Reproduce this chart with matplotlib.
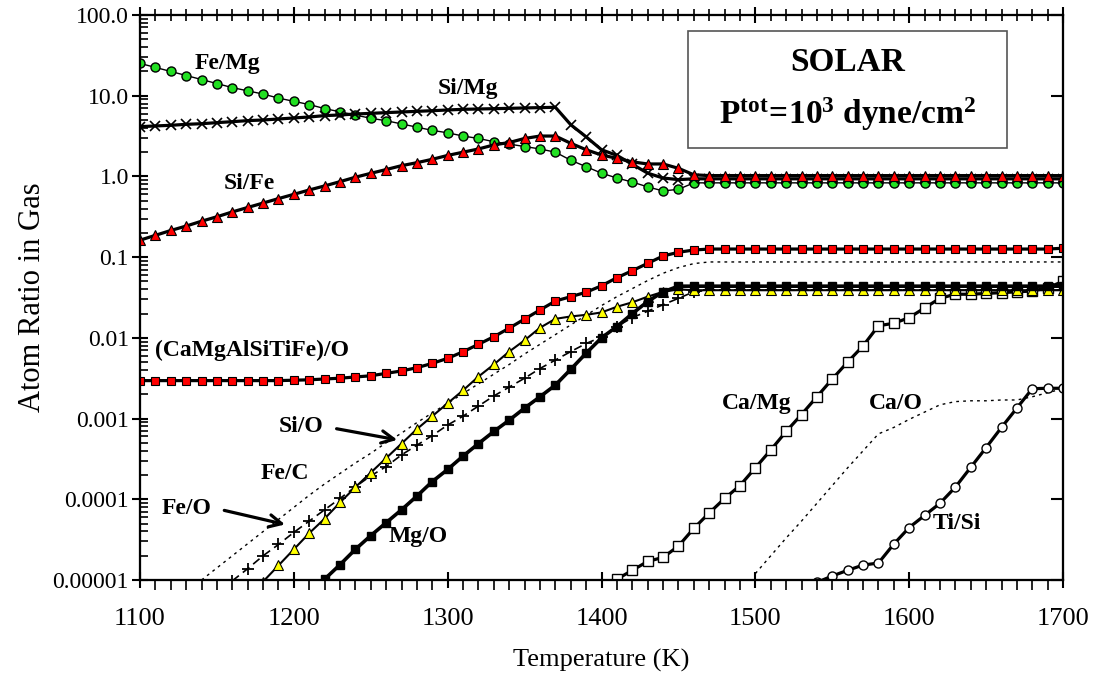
import matplotlib
matplotlib.use("Agg")
import matplotlib.pyplot as plt
from matplotlib.patches import Rectangle
from matplotlib.ticker import FixedLocator, FixedFormatter, LogLocator, NullFormatter, MultipleLocator
import numpy as np

plt.rcParams['font.family'] = ['Liberation Serif', 'DejaVu Serif']
plt.rcParams['mathtext.fontset'] = 'custom'
plt.rcParams['mathtext.rm'] = 'Liberation Serif'
plt.rcParams['mathtext.bf'] = 'Liberation Serif:bold'
plt.rcParams['mathtext.it'] = 'Liberation Serif:italic'

# temperature grid (K), one point every 10 K
temps = np.arange(1100, 1710, 10)

# log10 of the atom ratios
fe_mg = [1.40, 1.35, 1.30, 1.25, 1.20, 1.15, 1.10, 1.06, 1.02, 0.97,
         0.93, 0.89, 0.84, 0.80, 0.76, 0.72, 0.69, 0.65, 0.61, 0.57,
         0.54, 0.50, 0.47, 0.43, 0.40, 0.37, 0.34, 0.30, 0.20, 0.12,
         0.04, -0.02, -0.07, -0.13, -0.18, -0.16, -0.08, -0.08, -0.08, -0.08,
         -0.08, -0.08, -0.08, -0.08, -0.08, -0.08, -0.08, -0.08, -0.08, -0.08,
         -0.08, -0.08, -0.08, -0.08, -0.08, -0.08, -0.08, -0.08, -0.08, -0.08,
         -0.08]
si_mg = [0.616, 0.625, 0.633, 0.645, 0.653, 0.666, 0.678, 0.691, 0.699, 0.711,
         0.724, 0.736, 0.753, 0.761, 0.773, 0.781, 0.790, 0.798, 0.806, 0.814,
         0.823, 0.831, 0.835, 0.839, 0.843, 0.848, 0.852, 0.856, 0.64, 0.49,
         0.33, 0.26, 0.15, 0.04, -0.02, -0.04, -0.03, -0.03, -0.03, -0.03,
         -0.03, -0.03, -0.03, -0.03, -0.03, -0.03, -0.03, -0.03, -0.03, -0.03,
         -0.03, -0.03, -0.03, -0.03, -0.03, -0.03, -0.03, -0.03, -0.03, -0.03,
         -0.03]
si_fe = [-0.79, -0.73, -0.67, -0.615, -0.555, -0.50, -0.44, -0.385, -0.33, -0.275,
         -0.222, -0.168, -0.118, -0.065, -0.01, 0.038, 0.085, 0.133, 0.17, 0.212,
         0.26, 0.30, 0.34, 0.39, 0.42, 0.47, 0.50, 0.50, 0.41, 0.33,
         0.265, 0.224, 0.18, 0.154, 0.154, 0.10, 0.02, 0.01, 0.01, 0.01,
         0.01, 0.01, 0.01, 0.01, 0.01, 0.01, 0.01, 0.01, 0.01, 0.01,
         0.01, 0.01, 0.01, 0.01, 0.01, 0.01, 0.01, 0.01, 0.01, 0.01,
         0.01]
camg_o = [-2.53, -2.53, -2.53, -2.53, -2.53, -2.53, -2.53, -2.53, -2.53, -2.53,
          -2.525, -2.52, -2.51, -2.50, -2.485, -2.47, -2.44, -2.41, -2.37, -2.316,
          -2.254, -2.172, -2.08, -1.986, -1.88, -1.767, -1.655, -1.544, -1.49, -1.435,
          -1.355, -1.255, -1.168, -1.077, -0.986, -0.94, -0.912, -0.90, -0.90, -0.90,
          -0.90, -0.90, -0.90, -0.90, -0.90, -0.90, -0.90, -0.90, -0.90, -0.90,
          -0.90, -0.90, -0.90, -0.90, -0.90, -0.90, -0.90, -0.90, -0.90, -0.90,
          -0.89]

# series that start later: (first temperature, log10 values)
fe_c_start = 1140
fe_c = [-5.00, -4.85, -4.70, -4.55, -4.40, -4.25, -4.10, -3.95, -3.81, -3.68,
        -3.55, -3.43, -3.30, -3.18, -3.05, -2.93, -2.81, -2.69, -2.57, -2.45,
        -2.33, -2.20, -2.08, -1.96, -1.84, -1.72, -1.60, -1.49, -1.39, -1.29,
        -1.20, -1.13, -1.08, -1.06, -1.06, -1.06, -1.06, -1.06, -1.06, -1.06,
        -1.06, -1.06, -1.06, -1.06, -1.06, -1.06, -1.06, -1.06, -1.06, -1.06,
        -1.06, -1.06, -1.06, -1.06, -1.06, -1.06, -1.06]
fe_o_start = 1160
fe_o = [-5.01, -4.86, -4.70, -4.56, -4.41, -4.27, -4.13, -3.99, -3.845, -3.71,
        -3.595, -3.45, -3.33, -3.21, -3.08, -2.97, -2.845, -2.72, -2.61, -2.50,
        -2.38, -2.275, -2.17, -2.07, -1.99, -1.86, -1.75, -1.67, -1.59, -1.51,
        -1.43, -1.41, -1.41, -1.41, -1.41, -1.41, -1.41, -1.41, -1.41, -1.41,
        -1.41, -1.41, -1.41, -1.41, -1.41, -1.41, -1.41, -1.41, -1.41, -1.41,
        -1.41, -1.41, -1.41, -1.41, -1.41]
si_o_start = 1180
si_o = [-5.02, -4.82, -4.62, -4.42, -4.24, -4.04, -3.85, -3.67, -3.49, -3.31,
        -3.13, -2.97, -2.81, -2.65, -2.48, -2.33, -2.17, -2.03, -1.875, -1.765,
        -1.735, -1.715, -1.685, -1.615, -1.56, -1.49, -1.43, -1.40, -1.41, -1.41,
        -1.41, -1.41, -1.41, -1.41, -1.41, -1.41, -1.41, -1.41, -1.41, -1.41,
        -1.41, -1.41, -1.41, -1.41, -1.41, -1.41, -1.41, -1.41, -1.41, -1.41,
        -1.41, -1.41, -1.41]
mg_o_start = 1210
mg_o = [-5.15, -4.99, -4.81, -4.62, -4.45, -4.29, -4.13, -3.96, -3.78, -3.63,
        -3.465, -3.31, -3.16, -3.02, -2.87, -2.73, -2.585, -2.39, -2.19, -2.00,
        -1.86, -1.70, -1.55, -1.43, -1.36, -1.36, -1.36, -1.36, -1.36, -1.36,
        -1.36, -1.36, -1.36, -1.36, -1.36, -1.36, -1.36, -1.36, -1.36, -1.36,
        -1.36, -1.36, -1.36, -1.36, -1.36, -1.36, -1.36, -1.36, -1.36, -1.36]
ca_mg_start = 1400
ca_mg = [-5.12, -4.99, -4.88, -4.77, -4.72, -4.58, -4.36, -4.17, -3.99, -3.83,
         -3.61, -3.39, -3.16, -2.95, -2.73, -2.51, -2.30, -2.10, -1.85, -1.82,
         -1.75, -1.63, -1.51, -1.46, -1.46, -1.45, -1.44, -1.43, -1.42, -1.38,
         -1.30]
ca_o_start = 1500
ca_o = [-4.92, -4.70, -4.48, -4.27, -4.05, -3.83, -3.61, -3.40, -3.19, -3.11,
        -3.01, -2.92, -2.83, -2.79, -2.78, -2.78, -2.77, -2.77, -2.73, -2.68,
        -2.63]
ti_si_start = 1530
ti_si = [-5.10, -5.03, -4.95, -4.88, -4.815, -4.79, -4.555, -4.35, -4.20, -4.05,
         -3.85, -3.605, -3.36, -3.11, -2.87, -2.63, -2.625, -2.625]

ytick_vals = [1e-5, 1e-4, 1e-3, 1e-2, 1e-1, 1, 10, 100]
ytick_labels = ['0.00001', '0.0001', '0.001', '0.01', '0.1', '1.0', '10.0', '100.0']


def series(start, logs):
    t = start + 10 * np.arange(len(logs))
    return t, 10.0 ** np.array(logs)


fig = plt.figure(figsize=(10.94, 6.77), dpi=100)
ax = fig.add_axes([0.128, 0.1433, 0.8437, 0.8346])

red = '#ff0000'
green = '#22e022'
yellow = '#ffff00'

# upper group
ax.plot(*series(1100, fe_mg), color='k', lw=1.0, marker='o', ms=6.5,
        mfc=green, mec='k', mew=1.0, zorder=3)
ax.plot(*series(1100, si_mg), color='k', lw=2.3, marker='x', ms=7,
        mew=1.2, zorder=4)
ax.plot(*series(1100, si_fe), color='k', lw=2.3, marker='^', ms=7,
        mfc=red, mec='k', mew=0.8, zorder=5)

# lower group
ax.plot(*series(1100, camg_o), color='k', lw=2.3, marker='s', ms=6,
        mfc=red, mec='k', mew=0.8, zorder=5)
ax.plot(*series(fe_c_start, fe_c), color='k', lw=1.0, ls=(0, (2, 3)), zorder=2)
ax.plot(*series(fe_o_start, fe_o), color='k', lw=1.2, ls=(0, (5, 3)),
        marker='+', ms=9, mew=1.3, zorder=3)
ax.plot(*series(si_o_start, si_o), color='k', lw=1.5, marker='^', ms=6.5,
        mfc=yellow, mec='k', mew=0.8, zorder=4)
ax.plot(*series(mg_o_start, mg_o), color='k', lw=2.6, marker='s', ms=6,
        mfc='k', mec='k', zorder=4)
ax.plot(*series(ca_mg_start, ca_mg), color='k', lw=2.3, marker='s', ms=6.5,
        mfc='white', mec='k', mew=1.0, zorder=3)
ax.plot(*series(ca_o_start, ca_o), color='k', lw=1.0, ls=(0, (2, 3)), zorder=2)
ax.plot(*series(ti_si_start, ti_si), color='k', lw=2.3, marker='o', ms=6.5,
        mfc='white', mec='k', mew=1.0, zorder=3)

ax.set_yscale('log')
ax.set_xlim(1100, 1700)
ax.set_ylim(1e-5, 100)

# series labels
lab = dict(fontsize=17, fontweight='bold', ha='center', va='center')
ax.text(1157, 10 ** 1.40, 'Fe/Mg', **lab)
ax.text(1313, 10 ** 1.095, 'Si/Mg', **lab)
ax.text(1171, 10 ** -0.086, 'Si/Fe', **lab)
ax.text(1173, 10 ** -2.15, '(CaMgAlSiTiFe)/O', **lab)
ax.text(1205, 10 ** -3.10, 'Si/O', **lab)
ax.text(1194, 10 ** -3.68, 'Fe/C', **lab)
ax.text(1130, 10 ** -4.11, 'Fe/O', **lab)
ax.text(1281, 10 ** -4.46, 'Mg/O', **lab)
ax.text(1501, 10 ** -2.81, 'Ca/Mg', **lab)
ax.text(1591, 10 ** -2.81, 'Ca/O', **lab)
ax.text(1631, 10 ** -4.30, 'Ti/Si', **lab)

arrow = dict(arrowstyle='->', lw=2.3, color='k', mutation_scale=22)
ax.annotate('', xy=(1269, 10 ** -3.27), xytext=(1226, 10 ** -3.12), arrowprops=arrow)
ax.annotate('', xy=(1196, 10 ** -4.32), xytext=(1153, 10 ** -4.13), arrowprops=arrow)

# info box
ax.add_patch(Rectangle((0.594, 0.765), 0.345, 0.207, transform=ax.transAxes,
                       fill=True, facecolor='white', edgecolor='#555555',
                       lw=1.2, zorder=6))
ax.text(0.7665, 0.915, 'SOLAR', transform=ax.transAxes, fontsize=24,
        fontweight='bold', ha='center', va='center', zorder=7)
ax.text(0.7665, 0.825, r'$\mathbf{P^{tot}\!=\!10^{3}\ dyne/cm^{2}}$',
        transform=ax.transAxes, fontsize=24, ha='center', va='center', zorder=7)

# ticks
ax.yaxis.set_major_locator(FixedLocator(ytick_vals))
ax.yaxis.set_major_formatter(FixedFormatter(ytick_labels))
ax.yaxis.set_minor_locator(LogLocator(base=10, subs=np.arange(2, 10), numticks=20))
ax.yaxis.set_minor_formatter(NullFormatter())
ax.xaxis.set_major_locator(MultipleLocator(100))
ax.xaxis.set_minor_locator(MultipleLocator(10))
ax.tick_params(axis='both', which='major', direction='inout', length=12,
               width=1.5, top=False, right=False)
ax.tick_params(axis='x', which='major', labelsize=19, pad=14)
ax.tick_params(axis='y', which='major', labelsize=17, pad=2)
ax.tick_params(axis='y', which='minor', direction='in', length=6, width=1.2, right=False)
ax.tick_params(axis='x', which='minor', direction='out', length=7, width=1.2, top=False)

# top and right ticks
axt = ax.twiny()
axt.set_xlim(1100, 1700)
axt.xaxis.set_major_locator(MultipleLocator(100))
axt.xaxis.set_minor_locator(MultipleLocator(10))
axt.tick_params(axis='x', which='major', direction='inout', length=12, width=1.5,
                labeltop=False)
axt.tick_params(axis='x', which='minor', direction='inout', length=8, width=1.2)
axr = ax.twinx()
axr.set_yscale('log')
axr.set_ylim(1e-5, 100)
axr.yaxis.set_major_locator(FixedLocator(ytick_vals))
axr.yaxis.set_minor_locator(FixedLocator([]))
axr.tick_params(axis='y', which='major', direction='in', length=9, width=1.5,
                labelright=False)

for a in (ax, axt, axr):
    for s in a.spines.values():
        s.set_linewidth(1.5)

ax.set_xlabel('Temperature (K)', fontsize=19, labelpad=14)
ax.set_ylabel('Atom Ratio in Gas', fontsize=22, labelpad=4)

fig.savefig('out.png', dpi=100)
